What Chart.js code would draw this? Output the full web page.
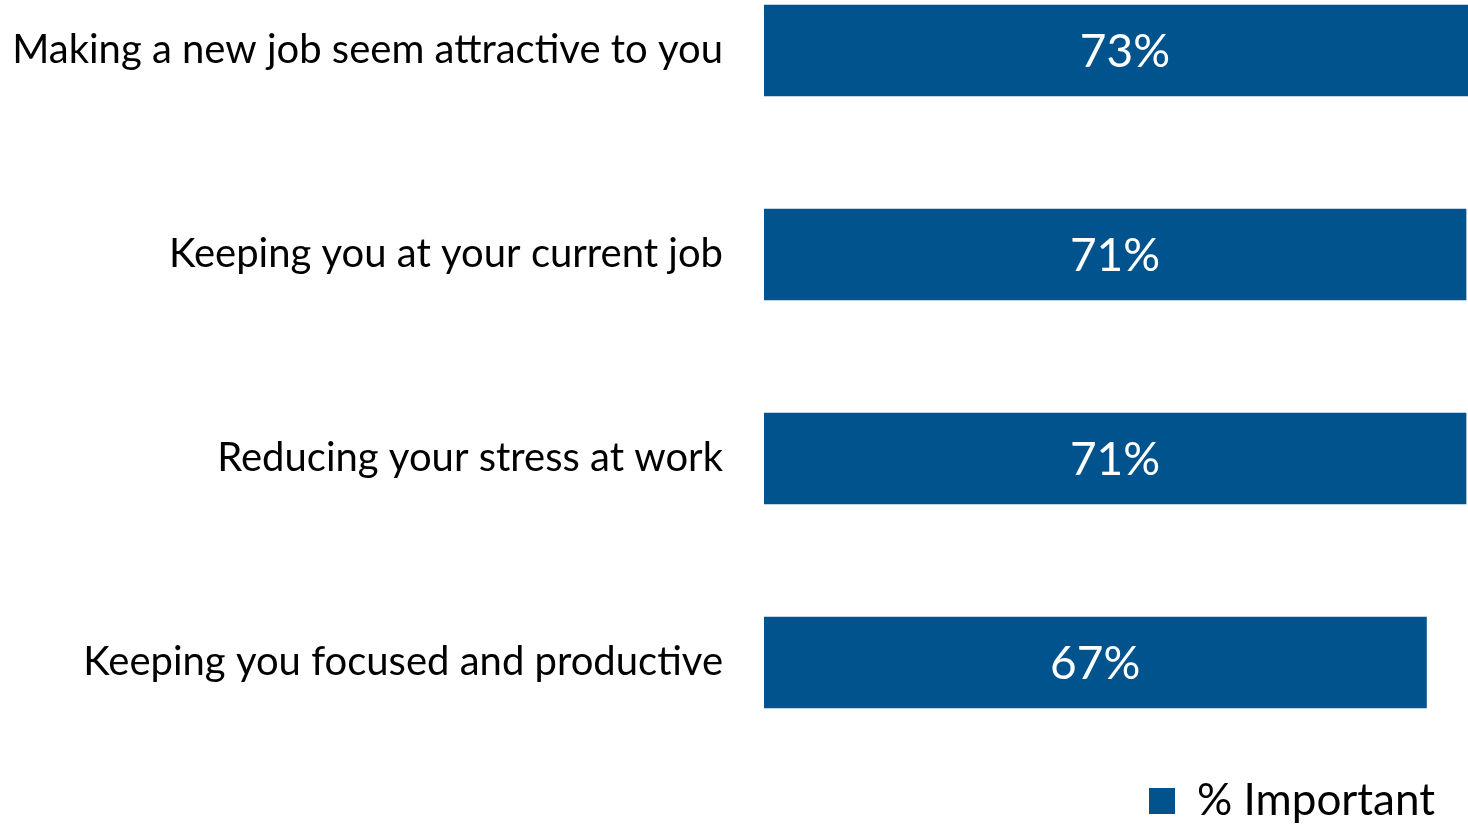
<!DOCTYPE html>
<html>
<head>
<meta charset="utf-8">
<script src="https://cdn.jsdelivr.net/npm/chart.js@4.4.1/dist/chart.umd.min.js"></script>
<style>
    html, body { margin: 0; padding: 0; background: #ffffff; }
    canvas { display: block; }
</style>
</head>
<body>
<canvas id="importantCanvas" width="1468" height="824"></canvas>
<script>
var categories = [
    'Making a new job seem attractive to you',
    'Keeping you at your current job',
    'Reducing your stress at work',
    'Keeping you focused and productive'
];
var importantValues = [73, 71, 71, 67];
var seriesLabel = '% Important';

var barBlue = '#01538e';
var fontFamily = 'Lato, "Open Sans", sans-serif';

// writes "NN%" in the middle of each bar (centre of the full bar, even if clipped)
var barValueLabels = {
    id: 'barValueLabels',
    afterDatasetsDraw: function (chart) {
        var ctx = chart.ctx;
        ctx.save();
        ctx.fillStyle = '#ffffff';
        ctx.font = '46px ' + fontFamily;
        ctx.textAlign = 'center';
        ctx.textBaseline = 'middle';
        chart.getDatasetMeta(0).data.forEach(function (bar, i) {
            var cx = (bar.x + bar.base) / 2;
            ctx.fillText(importantValues[i] + '%', cx, bar.y + 2);
        });
        ctx.restore();
    }
};

new Chart(document.getElementById('importantCanvas'), {
    type: 'bar',
    data: {
        labels: categories,
        datasets: [
            {
                label: seriesLabel,
                data: importantValues,
                backgroundColor: barBlue,
                borderWidth: 0,
                barThickness: 91,
                clip: { left: 0, top: 60, right: 0, bottom: 60 }
            }
        ]
    },
    options: {
        indexAxis: 'y',
        responsive: false,
        animation: false,
        layout: { padding: { top: 50.5, bottom: -9, left: 0, right: 0 } },
        scales: {
            x: {
                min: 0,
                max: 71.2,
                ticks: { display: false },
                grid: { display: false },
                border: { display: false },
                afterFit: function (scale) { scale.height = 83.5; }
            },
            y: {
                offset: false,
                grid: { display: false },
                border: { display: false },
                ticks: {
                    color: '#000000',
                    padding: 33,
                    font: { family: fontFamily, size: 40 }
                },
                afterFit: function (scale) {
                    scale.width = 764;
                    // bars overhang the first/last category anyway
                    scale.paddingTop = 0;
                    scale.paddingBottom = 0;
                }
            }
        },
        plugins: {
            legend: {
                position: 'bottom',
                align: 'end',
                labels: {
                    boxWidth: 26,
                    boxHeight: 26,
                    padding: 33,
                    color: '#000000',
                    font: { family: fontFamily, size: 44 }
                }
            },
            tooltip: { enabled: false }
        }
    },
    plugins: [barValueLabels]
});
</script>
</body>
</html>
